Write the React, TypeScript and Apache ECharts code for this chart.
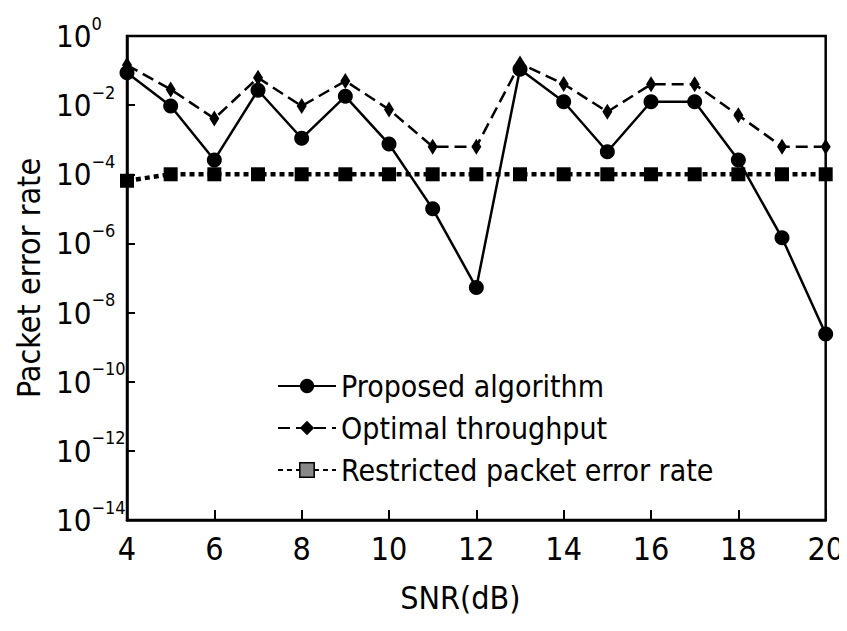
import React, { useEffect, useRef } from "react";
import * as echarts from "echarts";

const snr = [4, 5, 6, 7, 8, 9, 10, 11, 12, 13, 14, 15, 16, 17, 18, 19, 20];
const proposed = [0.087, 0.0094, 2.6e-4, 0.027, 1.1e-3, 0.018, 7.5e-4, 1.0e-5, 5.3e-8, 0.11, 0.0125, 4.5e-4, 0.0125, 0.0125, 2.6e-4, 1.45e-6, 2.4e-9];
const optimal = [0.144, 0.0285, 4.1e-3, 0.062, 0.0094, 0.05, 7.5e-3, 6.3e-4, 6.3e-4, 0.16, 0.041, 6.4e-3, 0.04, 0.04, 5.1e-3, 6.3e-4, 6.3e-4];
const restricted = [6.5e-5, 1e-4, 1e-4, 1e-4, 1e-4, 1e-4, 1e-4, 1e-4, 1e-4, 1e-4, 1e-4, 1e-4, 1e-4, 1e-4, 1e-4, 1e-4, 1e-4];
const seriesNames = ["Proposed algorithm", "Optimal throughput", "Restricted packet error rate"];
const xName = "SNR(dB)";
const yName = "Packet error rate";

const FONT = "'DejaVu Sans Condensed', 'Liberation Sans', sans-serif";

export default function App() {
  const ref = useRef<HTMLDivElement>(null);
  useEffect(() => {
    const chart = echarts.init(ref.current!, null, { renderer: "svg" });
    const pair = (arr: number[]) => snr.map((x, i) => [x, arr[i]]);
    chart.setOption({
      animation: false,
      backgroundColor: "#fff",
      textStyle: { fontFamily: FONT, color: "#000" },
      grid: {
        left: 127,
        right: 20,
        top: 36,
        bottom: 111,
        show: true,
        borderColor: "#000",
        borderWidth: 2.5,
        backgroundColor: "transparent",
      },
      legend: {
        orient: "vertical",
        left: 272,
        top: 364,
        itemWidth: 58,
        itemHeight: 18,
        itemGap: 8,
        textStyle: { fontFamily: FONT, fontSize: 30, lineHeight: 34, color: "#000" },
        data: [
          { name: seriesNames[0] },
          { name: seriesNames[1] },
          { name: seriesNames[2], itemStyle: { color: "#888", borderColor: "#000", borderWidth: 1.5 } },
        ],
      },
      xAxis: {
        type: "value",
        min: 4,
        max: 20,
        interval: 2,
        name: xName,
        nameLocation: "middle",
        nameGap: 62,
        nameTextStyle: { fontFamily: FONT, fontSize: 32, color: "#000", padding: [0, 32, 0, 0] },
        axisLine: { lineStyle: { color: "#000", width: 2.5 } },
        axisTick: { inside: true, length: 10, lineStyle: { color: "#000", width: 2 } },
        axisLabel: { fontFamily: FONT, fontSize: 32, color: "#000", margin: 13 },
        splitLine: { show: false },
      },
      yAxis: {
        type: "log",
        logBase: 10,
        min: 1e-14,
        max: 1,
        interval: 2,
        name: yName,
        nameLocation: "middle",
        nameGap: 80,
        nameTextStyle: { fontFamily: FONT, fontSize: 32, color: "#000" },
        axisLine: { lineStyle: { color: "#000", width: 2.5 } },
        axisTick: { inside: true, length: 8, lineStyle: { color: "#000", width: 2 } },
        splitLine: { show: false },
        axisLabel: {
          align: "left",
          margin: 71,
          formatter: (v: number) => {
            const e = Math.round(Math.log10(v));
            return "10{s|" + (e < 0 ? "\u2212" + -e : String(e)) + "}";
          },
          fontFamily: FONT,
          fontSize: 31,
          lineHeight: 44,
          color: "#000",
          rich: {
            s: { fontFamily: FONT, fontSize: 18, lineHeight: 18, verticalAlign: "top", color: "#000" },
          },
        },
      },
      series: [
        {
          name: seriesNames[0],
          type: "line",
          data: pair(proposed),
          symbol: "circle",
          symbolSize: 15,
          itemStyle: { color: "#000" },
          lineStyle: { color: "#000", width: 2.5 },
        },
        {
          name: seriesNames[1],
          type: "line",
          data: pair(optimal),
          symbol: "diamond",
          symbolSize: [10, 16],
          itemStyle: { color: "#000" },
          lineStyle: { color: "#000", width: 2.5, type: [12, 6] },
        },
        {
          name: seriesNames[2],
          type: "line",
          data: pair(restricted),
          symbol: "rect",
          symbolSize: 14,
          itemStyle: { color: "#000" },
          lineStyle: { color: "#000", width: 4.5, type: [5, 4] },
        },
      ],
    });
    return () => chart.dispose();
  }, []);
  return <div ref={ref} style={{ width: 847, height: 631, margin: -8 }} />;
}
